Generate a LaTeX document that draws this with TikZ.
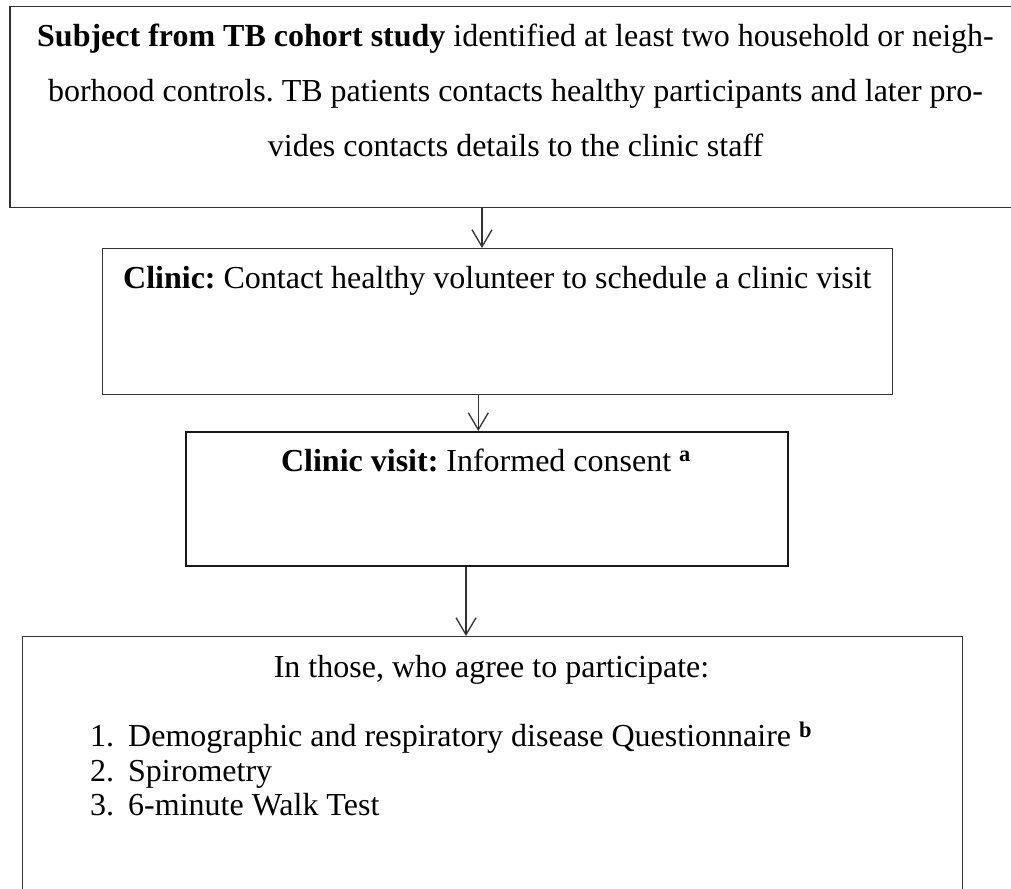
\documentclass[tikz,border=0pt]{standalone}
\usepackage{fontspec}
\setmainfont{Liberation Serif}
\usetikzlibrary{arrows.meta}
\frenchspacing
\begin{document}
\begin{tikzpicture}[x=1pt,y=-1pt,
  box/.style={draw=black!80, line width=1.3pt, rectangle, anchor=north west, inner sep=0pt},
  txt/.style={inner sep=0pt, font=\fontsize{32}{38}\selectfont},
  arr/.style={draw=black!80, line width=1.3pt, -{Straight Barb[length=17pt,width=20pt,line width=1.3pt]}}]
\useasboundingbox (0,0) rectangle (1011,888);
\clip (0,0) rectangle (1011,888);
% boxes
\node[box, minimum width=1013pt, minimum height=201pt] (b1) at (9.3,6) {};
\node[box, minimum width=790pt, minimum height=146pt] (b2) at (102,248) {};
\node[box, draw=black!90, line width=1.5pt, minimum width=602pt, minimum height=134pt] (b3) at (185,431) {};
\node[box, minimum width=940pt, minimum height=280pt] (b4) at (22,636) {};
% box 1 text
\node[txt, anchor=base] (t1a) at (515.5,46.7) {\textbf{Subject from TB cohort study} identified at least two household or neigh-};
\node[txt, anchor=base] (t1b) at (515.5,101.7) {borhood controls. TB patients contacts healthy participants and later pro-};
\node[txt, anchor=base] (t1c) at (515.5,156.7) {vides contacts details to the clinic staff};
% box 2 text
\node[txt, anchor=base west] (t2) at (123,288) {\textbf{Clinic:} Contact healthy volunteer to schedule a clinic visit};
% box 3 text
\node[txt, anchor=base] (t3) at (486,471) {\textbf{Clinic visit:} Informed consent \textsuperscript{\textbf{a}}};
% box 4 text
\node[txt, anchor=base] (t4) at (491.5,677) {In those, who agree to participate:};
\node[txt, anchor=base west] (n1) at (90,746.7) {1.};
\node[txt, anchor=base west] (n2) at (90,781.7) {2.};
\node[txt, anchor=base west] (n3) at (90,815) {3.};
\node[txt, anchor=base west] (l1) at (128,746.7) {Demographic and respiratory disease Questionnaire \textsuperscript{\textbf{b}}};
\node[txt, anchor=base west] (l2) at (128,781.7) {Spirometry};
\node[txt, anchor=base west] (l3) at (128,815) {6-minute Walk Test};
% arrows
\coordinate (a1) at (482,0);
\coordinate (a2) at (478.3,0);
\coordinate (a3) at (466,0);
\draw[arr] (b1.south -| a1) -- (b2.north -| a1);
\draw[arr] (b2.south -| a2) -- (b3.north -| a2);
\draw[arr] (b3.south -| a3) -- (b4.north -| a3);
\end{tikzpicture}
\end{document}
